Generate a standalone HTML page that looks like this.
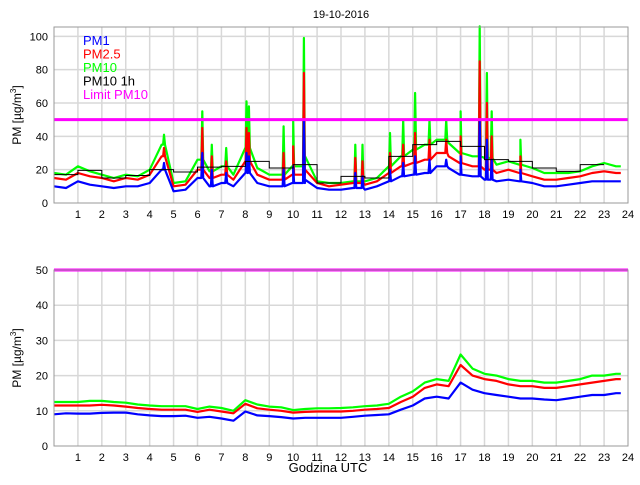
<!DOCTYPE html>
<html><head><meta charset="utf-8"><style>
body{margin:0;background:#fff;font-family:"Liberation Sans",sans-serif}
svg text{font-family:"Liberation Sans",sans-serif}
</style></head><body>
<svg id="c" width="640" height="480" xmlns="http://www.w3.org/2000/svg"></svg>
<script>
const hours=[];for(let i=0;i<48;i++)hours.push(i*0.5);
const topPM1=[10,9,13,11,10,9,10,10,12,20,7,8,15,10,12,10,18,12,10,10,12,14,9,8,8,9,8,10,13,16,17,18,22,21,17,16,14,13,14,13,12,10,10,11,12,13,13,13];
const topPM25=[15,14,18,16,15,13,15,14,17,28,10,11,20,15,17,14,25,17,14,14,17,20,12,10,11,12,11,13,18,22,24,26,30,28,24,22,20,18,20,18,16,14,14,15,16,18,19,18];
const topPM10=[18,17,22,19,17,15,17,16,20,35,12,13,26,19,22,17,33,21,17,17,22,28,13,12,12,13,13,15,22,28,32,35,38,36,30,28,27,23,25,23,21,18,18,18,19,22,24,22];
const spikeHours=[4.6,6.2,6.6,7.2,8.05,8.15,9.6,10.0,10.45,12.6,12.9,14.05,14.6,15.1,15.7,16.4,17.0,17.8,18.1,18.3,19.5];
const spikePM10=[41,55,35,33,61,58,46,49,99,35,35,42,50,66,50,50,55,106,78,55,38];
const spikePM25=[33,45,28,25,45,42,30,34,78,27,25,30,35,42,38,38,40,85,60,40,28];
const spikePM1=[24,30,20,18,30,28,20,22,50,18,16,20,24,28,26,26,28,50,38,26,20];
const hourly=[17,19.6,15,16.5,20,18.6,21.5,22,25,21,23,12,16,15,28,35,37,34,26,25,21,19,23];
const botPM1=[9,9.3,9.2,9.2,9.4,9.5,9.5,9,8.7,8.5,8.5,8.6,8,8.3,7.8,7.2,9.8,8.7,8.5,8.2,7.8,8,8,8,8,8.3,8.6,8.8,9,10.3,11.5,13.5,14,13.5,18,16,15,14.5,14,13.5,13.5,13.2,13,13.5,14,14.5,14.5,15];
const botPM25=[11.5,11.5,11.5,11.5,11.7,11.5,11.2,10.8,10.5,10.3,10.3,10.3,9.7,10.3,9.8,9.3,12,10.7,10.3,10,9.5,9.7,9.8,9.8,9.8,10,10.3,10.5,10.8,12.5,14,16.5,17.5,17,23,20,19,18.5,17.5,17,17,16.5,16.5,17,17.5,18,18.5,19];
const botPM10=[12.5,12.5,12.5,12.8,12.8,12.5,12.3,11.8,11.5,11.3,11.3,11.3,10.5,11.2,10.8,10,13,11.8,11.2,11,10.2,10.5,10.7,10.7,10.8,11,11.3,11.5,12,14,15.5,18,19,18.5,26,22,20.5,20,19,18.5,18.5,18,18,18.5,19,20,20,20.5];
const yTicksTop=[0,20,40,60,80,100], yTicksBot=[0,10,20,30,40,50];
const limit=50;

const NS="http://www.w3.org/2000/svg",svg=document.getElementById('c');
function el(t,a,p){const e=document.createElementNS(NS,t);for(const k in a)e.setAttribute(k,a[k]);(p||svg).appendChild(e);return e;}
const X0=54,X1=628;const xs=h=>X0+h*(X1-X0)/24;
function baseAt(base,h){const j=Math.min(47,Math.floor(h/0.5));return base[j];}
function merge(base,sp){const pts=hours.map((h,i)=>[h,base[i]]);pts.push([23.7,base[47]]);
 if(sp)spikeHours.forEach((h,i)=>{pts.push([h-0.04,baseAt(base,h)]);pts.push([h,sp[i]]);pts.push([h+0.04,baseAt(base,h)]);});
 pts.sort((a,b)=>a[0]-b[0]);return pts;}
function panel(name,top,bot,vmax,ticks,series,hasStep){
 const g=el('g',{});  
 const ys=v=>bot-v*(bot-top)/vmax;
 for(let h=1;h<24;h++){const l=el('line',{x1:xs(h),x2:xs(h),y1:top,y2:bot,stroke:'#d8d8d8','stroke-width':1.5},g);}
 ticks.forEach(v=>{if(v>0&&v<vmax){const l=el('line',{x1:X0,x2:X1,y1:ys(v),y2:ys(v),stroke:'#d8d8d8','stroke-width':1.5},g);}
  const t=el('text',{x:X0-6,y:ys(v)+4,'text-anchor':'end','font-size':11},g);t.textContent=v;});
 for(let h=1;h<=24;h++){const t=el('text',{x:xs(h),y:bot+15,'text-anchor':'middle','font-size':11},g);t.textContent=h;}
 series.forEach(s=>{const p=el('polyline',{points:s.pts.map(q=>xs(q[0]).toFixed(1)+','+ys(q[1]).toFixed(1)).join(' '),fill:'none',stroke:s.c,'stroke-width':2.2,'stroke-linejoin':'round'},g);});
 if(hasStep){let d='';hourly.forEach((v,i)=>{d+=(i?'L':'M')+xs(i)+','+ys(v)+'L'+xs(i+1)+','+ys(v);});const p=el('path',{d:d,fill:'none',stroke:'#000','stroke-width':1},g);}
 const lm=el('line',{x1:X0,x2:X1,y1:ys(limit),y2:ys(limit),stroke:'#ff00ff','stroke-width':3},g);
 const r=el('rect',{x:X0,y:top,width:X1-X0,height:bot-top,fill:'none',stroke:'#999','stroke-width':1},g);
 const yt=el('text',{x:0,y:0,'font-size':12,'text-anchor':'middle',transform:`translate(21,${(top+bot)/2}) rotate(-90)`},g);yt.innerHTML='PM [µg/m<tspan dy="-5" font-size="8">3</tspan><tspan dy="5">]</tspan>';
}
panel('top-panel',27,203,105.6,yTicksTop,[
 {n:'pm10-series',c:'#00ff00',pts:merge(topPM10,spikePM10)},
 {n:'pm25-series',c:'#ff0000',pts:merge(topPM25,spikePM25)},
 {n:'pm1-series',c:'#0000ff',pts:merge(topPM1,spikePM1)}],true);
panel('bottom-panel',270,446,50,yTicksBot,[
 {n:'pm10-series',c:'#00ff00',pts:merge(botPM10)},
 {n:'pm25-series',c:'#ff0000',pts:merge(botPM25)},
 {n:'pm1-series',c:'#0000ff',pts:merge(botPM1)}],false);
const title=el('text',{x:341,y:18,'text-anchor':'middle','font-size':11});title.textContent='19-10-2016';

const xt=el('text',{x:328,y:472,'text-anchor':'middle','font-size':13});xt.textContent='Godzina UTC';

const leg=[['PM1','#0000ff'],['PM2.5','#ff0000'],['PM10','#00ff00'],['PM10 1h','#000'],['Limit PM10','#ff00ff']];
leg.forEach((l,i)=>{const t=el('text',{x:83,y:45+i*13.5,'font-size':13,fill:l[1]});t.textContent=l[0];
 });
</script>
</body></html>
